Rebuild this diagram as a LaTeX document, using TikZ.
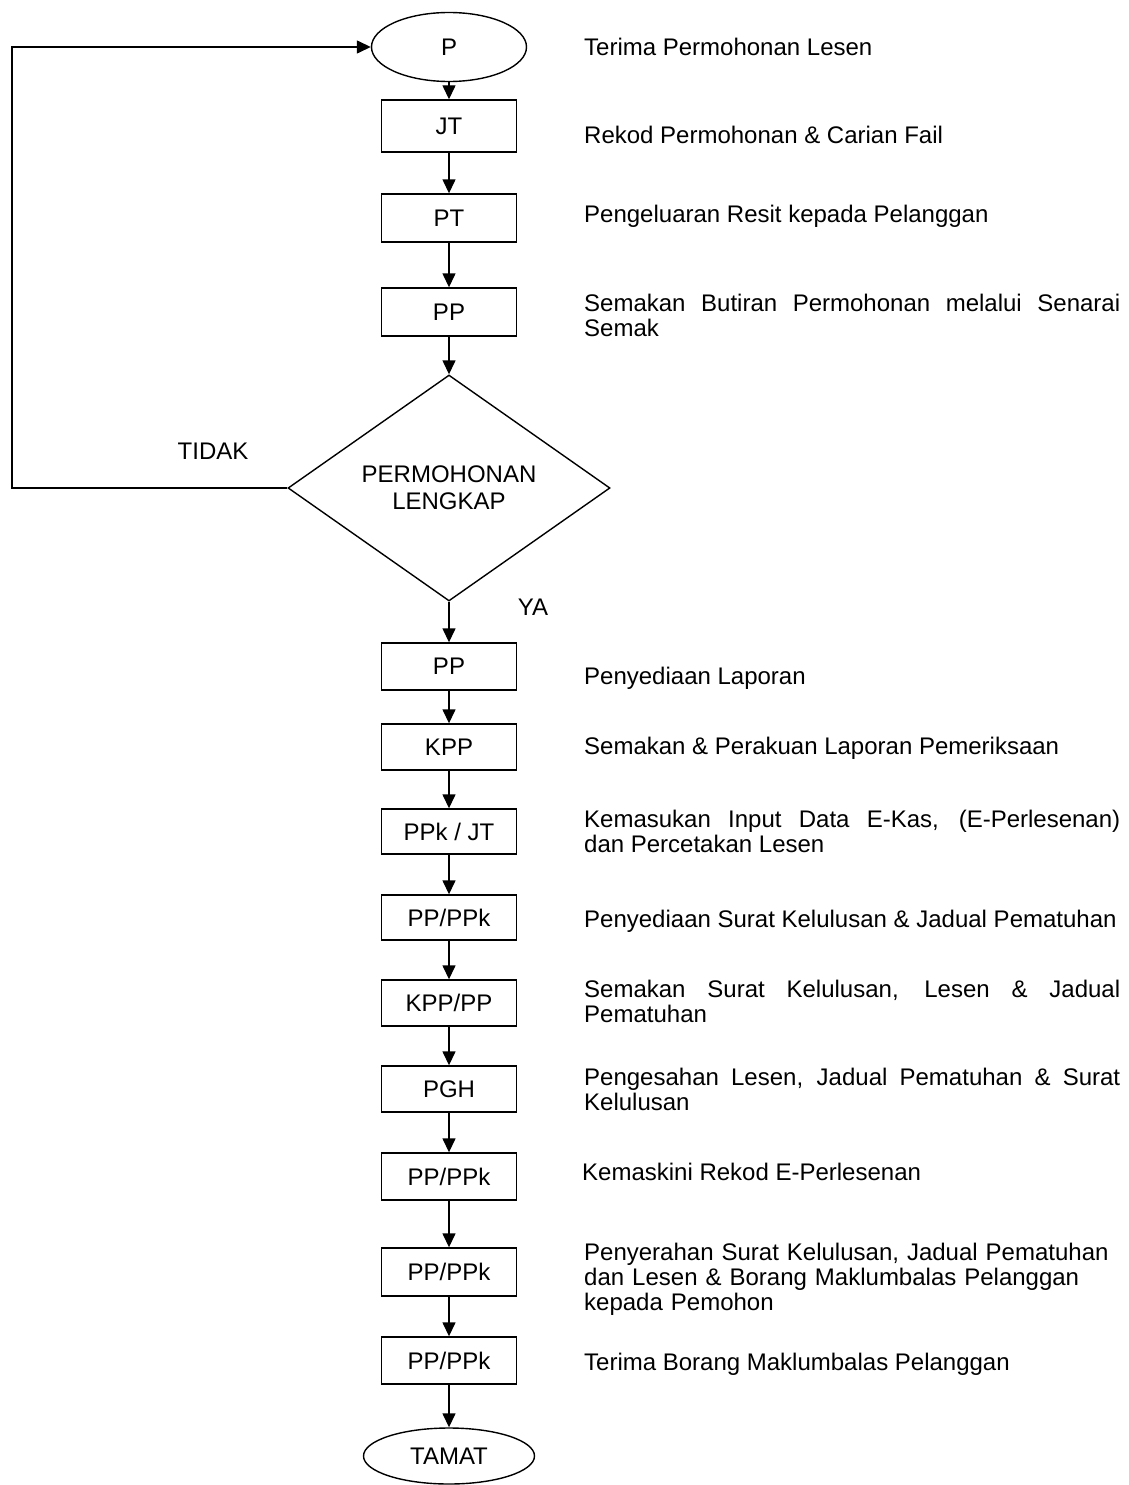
\documentclass[tikz,border=0pt]{standalone}
\usepackage{fontspec}
\setmainfont{Liberation Sans}
\usetikzlibrary{shapes.geometric}
\usetikzlibrary{arrows.meta}
\tikzset{box/.style={draw,line width=1.4pt,minimum width=135pt,minimum height=47pt,inner sep=0pt}}
\tikzset{term/.style={draw,ellipse,line width=1.4pt,inner sep=0pt}}
\tikzset{dec/.style={draw,diamond,line width=1.4pt,minimum width=322pt,minimum height=226pt,inner sep=0pt,align=center,font=\fontsize{24}{27}\selectfont}}
\tikzset{note/.style={anchor=base west,text width=536pt,align=justify,inner sep=0pt}}
\tikzset{arr/.style={line width=1.4pt,-{Triangle[length=14pt,width=13pt]}}}
\hyphenpenalty=10000
\exhyphenpenalty=10000

\begin{document}
\begin{tikzpicture}[x=1pt,y=-1pt,font=\fontsize{24}{25}\selectfont]
  \useasboundingbox (0,0) rectangle (1128,1485);
  % left column
  \node[term,minimum width=155pt,minimum height=69pt] (p) at (449,47) {P};
  \node[box,minimum height=52pt] (jt) at (449,126) {JT};
  \node[box,minimum height=48pt] (pt) at (449,218) {PT};
  \node[box,minimum height=48pt] (pp) at (449,312) {PP};
  \node[dec] (lengkap) at (449,488) {PERMOHONAN\\LENGKAP};
  \node[box] (lapor) at (449,666.5) {PP};
  \node[box,minimum height=46pt] (kpp) at (449,747) {KPP};
  \node[box,minimum height=45pt] (input) at (449,831.5) {PPk / JT};
  \node[box,minimum height=45pt] (surat) at (449,917.5) {PP/PPk};
  \node[box,minimum height=46pt] (semak) at (449,1003) {KPP/PP};
  \node[box,minimum height=46pt] (pgh) at (449,1089) {PGH};
  \node[box] (rekod) at (449,1176.5) {PP/PPk};
  \node[box,minimum height=48pt] (serah) at (449,1272) {PP/PPk};
  \node[box] (borang) at (449,1360.5) {PP/PPk};
  \node[term,minimum width=171pt,minimum height=56pt] (tamat) at (449,1456) {TAMAT};
  \coordinate (loop) at (12,488);

  \draw[arr] (p) -- (jt);
  \draw[arr] (jt) -- (pt);
  \draw[arr] (pt) -- (pp);
  \draw[arr] (pp) -- (lengkap.north);
  \draw[arr] (lengkap.south) -- (lapor);
  \draw[arr] (lapor) -- (kpp);
  \draw[arr] (kpp) -- (input);
  \draw[arr] (input) -- (surat);
  \draw[arr] (surat) -- (semak);
  \draw[arr] (semak) -- (pgh);
  \draw[arr] (pgh) -- (rekod);
  \draw[arr] (rekod) -- (serah);
  \draw[arr] (serah) -- (borang);
  \draw[arr] (borang) -- (tamat);
  \draw[arr] (lengkap.west) -- (loop) |- (p.west);

  \node (tidak) at (213,451) {TIDAK};
  \node (ya) at (533,607) {YA};

  % right column
  \node[note] (n1) at (584,56) {Terima Permohonan Lesen};
  \node[note] (n2) at (584,143) {Rekod Permohonan \& Carian Fail};
  \node[note] (n3) at (584,222) {Pengeluaran Resit kepada Pelanggan};
  \node[note] (n4) at (584,311) {Semakan Butiran Permohonan melalui Senarai Semak};
  \node[note] (n5) at (584,684) {Penyediaan Laporan};
  \node[note] (n6) at (584,754) {Semakan \& Perakuan Laporan Pemeriksaan};
  \node[note] (n7) at (584,827) {Kemasukan Input Data E-Kas, (E-Perlesenan)\linebreak dan Percetakan Lesen};
  \node[note] (n8) at (584,927) {Penyediaan Surat Kelulusan \& Jadual Pematuhan};
  \node[note] (n9) at (584,997) {Semakan Surat Kelulusan, Lesen \& Jadual Pematuhan};
  \node[note] (n10) at (584,1085) {Pengesahan Lesen, Jadual Pematuhan \& Surat Kelulusan};
  \node[note] (n11) at (582,1180) {Kemaskini Rekod E-Perlesenan};
  \node[note,align=left] (n12) at (584,1260) {Penyerahan Surat Kelulusan, Jadual Pematuhan dan Lesen \& Borang Maklumbalas Pelanggan kepada Pemohon};
  \node[note] (n13) at (584,1370) {Terima Borang Maklumbalas Pelanggan};
\end{tikzpicture}
\end{document}
